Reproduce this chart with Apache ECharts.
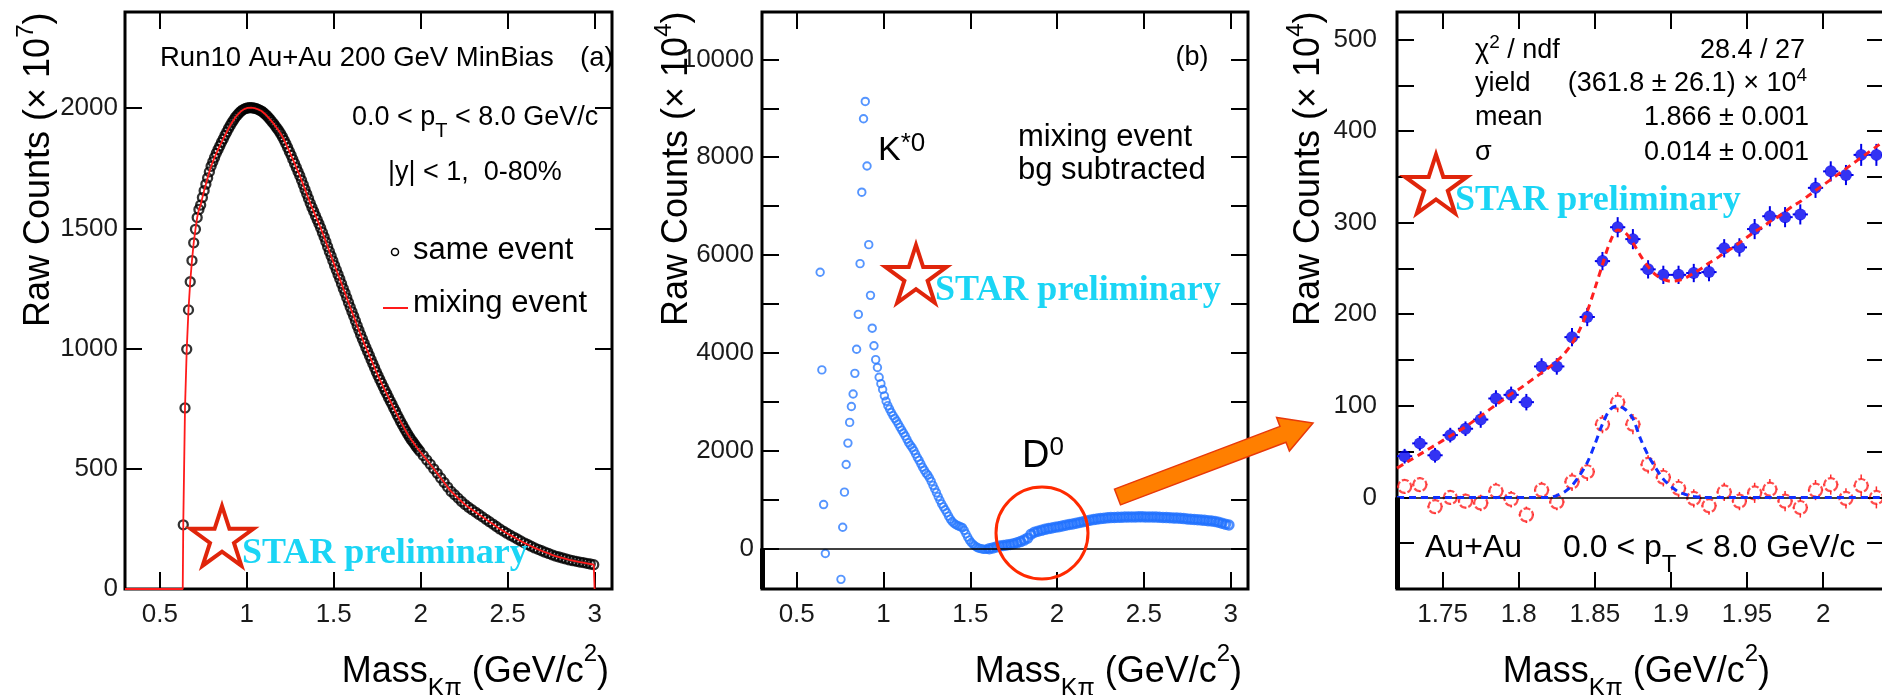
<!DOCTYPE html>
<html><head><meta charset="utf-8">
<script src="https://cdn.jsdelivr.net/npm/echarts@6/dist/echarts.min.js"></script>
<style>html,body{margin:0;padding:0;background:#fff}#c{width:1882px;height:695px}</style>
</head><body><div id="c"></div>
<script>
// ---------- Panel (a): same-event Kπ invariant mass (×10^7) ----------
const p1Mass = [
0.635,0.645,0.655,0.665,0.675,0.685,0.695,0.705,0.715,0.725,
0.735,0.745,0.755,0.765,0.775,0.785,0.795,0.805,0.815,0.825,
0.835,0.845,0.855,0.865,0.875,0.885,0.895,0.905,0.915,0.925,
0.935,0.945,0.955,0.965,0.975,0.985,0.995,1.005,1.015,1.025,
1.035,1.045,1.055,1.065,1.075,1.085,1.095,1.105,1.115,1.125,
1.135,1.145,1.155,1.165,1.175,1.185,1.195,1.205,1.215,1.225,
1.235,1.245,1.255,1.265,1.275,1.285,1.295,1.305,1.315,1.325,
1.335,1.345,1.355,1.365,1.375,1.385,1.395,1.405,1.415,1.425,
1.435,1.445,1.455,1.465,1.475,1.485,1.495,1.505,1.515,1.525,
1.535,1.545,1.555,1.565,1.575,1.585,1.595,1.605,1.615,1.625,
1.635,1.645,1.655,1.665,1.675,1.685,1.695,1.705,1.715,1.725,
1.735,1.745,1.755,1.765,1.775,1.785,1.795,1.805,1.815,1.825,
1.835,1.845,1.855,1.865,1.875,1.885,1.895,1.905,1.915,1.925,
1.935,1.945,1.955,1.965,1.975,1.985,1.995,
2.015,2.035,2.055,2.075,2.095,2.115,2.135,2.155,2.175,2.195,
2.215,2.235,2.255,2.275,2.295,2.315,2.335,2.355,2.375,2.395,
2.415,2.435,2.455,2.475,2.495,2.515,2.535,2.555,2.575,2.595,
2.615,2.635,2.655,2.675,2.695,2.715,2.735,2.755,2.775,2.795,
2.815,2.835,2.855,2.875,2.895,2.915,2.935,2.955,2.975,2.995];
const p1Same = [
267,753,997,1161,1278,1366,1440,1496,1545,1579,
1597,1628,1657,1684,1710,1735,1758,1777,1795,1812,
1828,1843,1858,1872,1887,1901,1915,1928,1940,1951,
1962,1971,1979,1986,1992,1996,1999,2001,2002,2002,
2001,2000,1998,1995,1991,1988,1982,1976,1969,1961,
1953,1944,1935,1925,1915,1905,1894,1881,1867,1852,
1836,1820,1804,1787,1770,1753,1736,1719,1700,1681,
1662,1643,1624,1605,1587,1570,1553,1536,1519,1502,
1483,1464,1444,1424,1404,1385,1365,1346,1327,1308,
1289,1270,1250,1231,1211,1192,1172,1153,1134,1115,
1095,1076,1058,1040,1022,1005,988,971,954,937,
920,903,887,871,856,841,826,812,797,782,
768,753,739,724,710,696,683,670,657,645,
633,622,612,602,592,582,573,
555,537,519,500,481,462,443,424,406,392,
378,364,351,340,330,320,310,300,290,280,
270,260,250,241,232,224,216,208,200,192,
185,178,171,165,159,153,148,142,137,133,
129,125,121,118,115,112,110,107,104,101];
// mixing-event histogram edges (normalised to same event)
const p1MixStart = [[0.30, 0], [0.632, 0]];
const p1MixEnd = [[3.0, 100], [3.0, 0]];

// ---------- Panel (b): mixing-event background subtracted (×10^4) ----------
const p2Mass = [
0.635,0.645,0.655,0.665,0.755,0.765,0.775,0.785,0.795,0.805,0.815,0.825,
0.835,0.845,0.855,0.865,0.875,0.885,0.895,0.905,0.915,0.925,0.935,0.945,
0.955,0.965,0.975,0.985,0.995,1.005,1.015,1.025,1.035,1.045,
1.055,1.065,1.075,1.085,1.095,1.105,1.115,1.125,1.135,1.145,
1.155,1.165,1.175,1.185,1.195,1.205,1.215,1.225,1.235,1.245,
1.255,1.265,1.275,1.285,1.295,1.305,1.315,1.325,1.335,1.345,
1.355,1.365,1.375,1.385,1.395,1.405,1.415,1.425,1.435,1.445,
1.455,1.465,1.475,1.485,1.495,1.505,1.515,1.525,1.535,1.545,
1.555,1.565,1.575,1.585,1.595,
1.61,1.63,1.65,1.67,1.69,1.71,1.73,1.75,1.77,1.79,
1.81,1.83,1.85,1.87,1.89,1.91,1.93,1.95,1.97,1.99,
2.01,2.03,2.05,2.07,2.09,2.11,2.13,2.15,2.17,2.19,
2.21,2.23,2.25,2.27,2.29,2.31,2.33,2.35,2.37,2.39,
2.41,2.43,2.45,2.47,2.49,2.51,2.53,2.55,2.57,2.59,
2.61,2.63,2.65,2.67,2.69,2.71,2.73,2.75,2.77,2.79,
2.81,2.83,2.85,2.87,2.89,2.91,2.93,2.95,2.97,2.99];
const p2Counts = [
5648,3651,897,-104,-633,432,1151,1717,2154,2577,2903,3157,
3580,4074,4786,5824,7285,8787,9141,7821,6212,5175,4504,4145,
3860,3700,3500,3370,3250,3120,3010,2920,2850,2780,
2715,2660,2605,2545,2480,2420,2360,2300,2230,2160,
2110,2060,2000,1930,1860,1800,1730,1660,1600,1540,
1500,1440,1370,1290,1215,1140,1060,985,910,850,
790,730,660,600,550,515,490,470,455,440,
425,370,300,230,170,120,85,55,30,12,
0,-10,-18,-20,-15,
-5,10,30,50,60,70,80,95,115,140,
170,210,290,330,350,370,390,405,420,435,
445,460,475,490,500,515,530,545,560,575,
590,600,610,618,625,630,633,636,638,640,
642,644,645,646,646,645,644,642,640,637,
634,631,628,624,620,616,610,604,598,592,
586,580,574,567,560,550,535,515,495,480];
const p2DenseFrom = 89; // index where the dense (coarser-read) band starts

// ---------- Panel (c): D0 region (×10^4) ----------
const p3Mass = [1.725,1.735,1.745,1.755,1.765,1.775,1.785,1.795,1.805,1.815,1.825,1.835,1.845,1.855,1.865,1.875,
                1.885,1.895,1.905,1.915,1.925,1.935,1.945,1.955,1.965,1.975,1.985,1.995,2.005,2.015,2.025,2.035];
const p3Total = [45,59,46,68,75,85,108,112,104,143,143,175,197,258,295,282,
                 249,243,243,245,246,272,273,293,307,306,309,338,356,352,374,374];
const p3Signal = [12,14,-10,0,-4,-6,7,-2,-19,8,-5,17,28,80,104,80,
                  36,22,10,-1,-9,6,-4,5,9,-4,-11,8,14,-1,13,0];
const p3Err = [8,8,8,8,8,9,9,9,9,9,9,10,10,10,11,11,10,10,10,10,10,10,10,11,11,11,11,11,11,11,12,12];
const p3HalfBin = 0.005;
const p3FitX = [1.720,1.725,1.730,1.735,1.740,1.745,1.750,1.755,1.760,1.765,
  1.770,1.775,1.780,1.785,1.790,1.795,1.800,1.805,1.810,1.815,
  1.820,1.825,1.830,1.835,1.840,1.845,1.850,1.855,1.860,1.865,
  1.870,1.875,1.880,1.885,1.890,1.895,1.900,1.905,1.910,1.915,
  1.920,1.925,1.930,1.935,1.940,1.945,1.950,1.955,1.960,1.965,
  1.970,1.975,1.980,1.985,1.990,1.995,2.000,2.005,2.010,2.015,
  2.020,2.025,2.030,2.035,2.040];
const p3FitTotal = [32,37,42,47,52,57,62,67,72,77,
  83,89,95,101,107,113,118,124,130,136,
  142,149,157,168,183,203,228,254,279,292,
  289,278,264,252,243,238,236,237,240,245,
  250,256,261,267,272,278,284,290,295,301,
  306,312,318,323,329,335,341,347,353,359,
  365,371,377,383,389];
const p3FitSignal = [0,0,0,0,0,0,0,0,0,0,
  0,0,0,0,0,0,0,0,0,0,
  0,2,6,13,24,38,58,80,96,100,
  96,86,64,46,32,20,12,6,3,1,
  0,0,0,0,0,0,0,0,0,0,
  0,0,0,0,0,0,0,0,0,0,
  0,0,0,0,0];

// tick labels
const p12XTicks = [0.5, 1, 1.5, 2, 2.5, 3];
const p1YTicks = [0, 500, 1000, 1500, 2000];
const p2YTicks = [0,1000,2000,3000,4000,5000,6000,7000,8000,9000,10000];
const p2YLabels = [0, 2000, 4000, 6000, 8000, 10000];
const p3XTicks = [1.75, 1.8, 1.85, 1.9, 1.95, 2];
const p3YTicks = [-50,0,50,100,150,200,250,300,350,400,450,500];
const p3YLabels = [0, 100, 200, 300, 400, 500];

// ---------- chart ----------
const SANS = "'Liberation Sans', Arial, Helvetica, sans-serif";
const SERIF = "'Liberation Serif', 'Times New Roman', serif";
const zip = (xs, ys) => xs.map((x, i) => [x, ys[i]]);
const fmt = v => String(v);

function grid(left, width) {
  return {left, top: 12, width, height: 577, show: true, borderColor: '#000', borderWidth: 3,
          backgroundColor: 'transparent', containLabel: false, outerBoundsMode: 'none'};
}
function xAx(g, min, max, ticks, pos) {
  return {type: 'value', gridIndex: g, position: pos, min, max,
    axisLine: {show: false, onZero: false}, splitLine: {show: false},
    axisTick: {show: true, inside: true, length: 17, customValues: ticks, lineStyle: {color: '#000', width: 2}},
    axisLabel: {show: pos === 'bottom', customValues: ticks, margin: 13, fontSize: 26, fontFamily: SANS,
                color: '#1a1a1a', formatter: fmt}};
}
function yAx(g, min, max, ticks, labels, pos, margin) {
  return {type: 'value', gridIndex: g, position: pos, min, max,
    axisLine: {show: false, onZero: false}, splitLine: {show: false},
    axisTick: {show: true, inside: true, length: 17, customValues: ticks, lineStyle: {color: '#000', width: 2}},
    axisLabel: {show: pos === 'left', customValues: labels, margin: margin, fontSize: 26, fontFamily: SANS,
                color: '#1a1a1a', formatter: fmt}};
}
// error bars drawn only outside the marker (ROOT style)
function errRender(color, lw, rPx) {
  return function (params, api) {
    const x = api.value(0), y = api.value(1), e = api.value(2), hw = api.value(3);
    const c = api.coord([x, y]);
    const t = api.coord([x, y + e]), b = api.coord([x, y - e]);
    const l = api.coord([x - hw, y]), r = api.coord([x + hw, y]);
    const kids = [];
    const seg = (x1, y1, x2, y2) => kids.push({type: 'line', shape: {x1, y1, x2, y2}, style: {stroke: color, lineWidth: lw}});
    if (c[1] - t[1] > rPx) { seg(c[0], c[1] - rPx, c[0], t[1]); seg(c[0], c[1] + rPx, c[0], b[1]); }
    if (r[0] - c[0] > rPx) { seg(c[0] + rPx, c[1], r[0], c[1]); seg(c[0] - rPx, c[1], l[0], c[1]); }
    return {type: 'group', children: kids};
  };
}
const zeroLine = {silent: true, symbol: ['none', 'none'], label: {show: false},
  lineStyle: {color: '#000', width: 1.5, type: 'solid'}, data: [{yAxis: 0}]};
const p2Data = zip(p2Mass, p2Counts);

const option = {
  animation: false,
  backgroundColor: '#fff',
  grid: [grid(125, 487), grid(762, 486), grid(1397, 487)],
  xAxis: [
    xAx(0, 0.3, 3.1, p12XTicks, 'bottom'), xAx(0, 0.3, 3.1, p12XTicks, 'top'),
    xAx(1, 0.3, 3.1, p12XTicks, 'bottom'), xAx(1, 0.3, 3.1, p12XTicks, 'top'),
    xAx(2, 1.72, 2.04, p3XTicks, 'bottom'), xAx(2, 1.72, 2.04, p3XTicks, 'top')
  ],
  yAxis: [
    yAx(0, 0, 2400, p1YTicks, p1YTicks, 'left', 7), yAx(0, 0, 2400, p1YTicks, p1YTicks, 'right', 7),
    yAx(1, -830, 10970, p2YTicks, p2YLabels, 'left', 8), yAx(1, -830, 10970, p2YTicks, p2YLabels, 'right', 8),
    yAx(2, -100, 530, p3YTicks, p3YLabels, 'left', 20), yAx(2, -100, 530, p3YTicks, p3YLabels, 'right', 20)
  ],
  series: [
    {name: 'same event', type: 'scatter', xAxisIndex: 0, yAxisIndex: 0, data: zip(p1Mass, p1Same),
     symbol: 'circle', symbolSize: 9, itemStyle: {color: 'transparent', borderColor: '#000', borderWidth: 2.3}, z: 3},
    {name: 'mixing event', type: 'line', xAxisIndex: 0, yAxisIndex: 0,
     data: p1MixStart.concat(zip(p1Mass, p1Same), p1MixEnd),
     showSymbol: false, lineStyle: {color: '#ff1a1a', width: 1.8}, z: 4},
    {name: 'bg subtracted', type: 'scatter', xAxisIndex: 2, yAxisIndex: 2, data: p2Data.slice(0, p2DenseFrom),
     symbol: 'circle', symbolSize: 7.5, itemStyle: {color: 'transparent', borderColor: '#2a7bff', borderWidth: 1.9},
     markLine: zeroLine, z: 3},
    {name: 'bg subtracted', type: 'scatter', xAxisIndex: 2, yAxisIndex: 2, data: p2Data.slice(p2DenseFrom),
     symbol: 'circle', symbolSize: 8.5, itemStyle: {color: 'transparent', borderColor: '#1f70ff', borderWidth: 3}, z: 3},
    {type: 'custom', xAxisIndex: 4, yAxisIndex: 4, renderItem: errRender('#0000e8', 2, 5),
     data: p3Mass.map((m, i) => [m, p3Total[i], p3Err[i], p3HalfBin]), z: 2},
    {type: 'custom', xAxisIndex: 4, yAxisIndex: 4, renderItem: errRender('#ff2a2a', 1.5, 6.5),
     data: p3Mass.map((m, i) => [m, p3Signal[i], p3Err[i], p3HalfBin]), z: 2},
    {name: 'total', type: 'scatter', xAxisIndex: 4, yAxisIndex: 4, data: zip(p3Mass, p3Total),
     symbol: 'circle', symbolSize: 12, itemStyle: {color: '#0000f0'}, markLine: zeroLine, z: 3},
    {name: 'signal', type: 'scatter', xAxisIndex: 4, yAxisIndex: 4, data: zip(p3Mass, p3Signal),
     symbol: 'circle', symbolSize: 13,
     itemStyle: {color: 'transparent', borderColor: '#ff2020', borderWidth: 2.2, borderType: [7, 2]}, z: 3},
    {name: 'fit total', type: 'line', xAxisIndex: 4, yAxisIndex: 4, data: zip(p3FitX, p3FitTotal),
     showSymbol: false, smooth: 0.3, lineStyle: {color: '#ff2020', width: 3, type: [7, 5]}, z: 5},
    {name: 'fit signal', type: 'line', xAxisIndex: 4, yAxisIndex: 4, data: zip(p3FitX, p3FitSignal),
     showSymbol: false, smooth: 0.3, lineStyle: {color: '#1030ff', width: 3, type: [7, 5]}, z: 5}
  ]
};

const chart = echarts.init(document.getElementById('c'), null, {renderer: 'canvas'});
chart.setOption(option);

// ---------- annotations ----------
function T(x, y, text, size, o) {
  o = o || {};
  return {type: 'text', x, y, rotation: o.rot || 0, z: 100,
    style: {text, fontSize: size, fontFamily: o.family || SANS, fontWeight: o.weight || 'normal',
            fill: o.color || '#000', align: o.align || 'left', verticalAlign: 'middle', rich: o.rich}};
}
function star(cx, cy, R) {
  const pts = [];
  for (let i = 0; i < 10; i++) {
    const a = -Math.PI / 2 + i * Math.PI / 5;
    const r = i % 2 ? R * 0.382 : R;
    pts.push([cx + r * Math.cos(a), cy + r * Math.sin(a)]);
  }
  return {type: 'polygon', z: 100, shape: {points: pts},
          style: {fill: 'transparent', stroke: '#e0250b', lineWidth: 4, lineJoin: 'miter'}};
}
const yTitleRich = {
  m: {fontSize: 36, fontFamily: SANS, lineHeight: 50, verticalAlign: 'middle', fill: '#000'},
  s: {fontSize: 24, fontFamily: SANS, lineHeight: 24, verticalAlign: 'top', fill: '#000'}
};
const xTitleRich = {
  m: {fontSize: 36, fontFamily: SANS, lineHeight: 60, verticalAlign: 'middle', fill: '#000'},
  b: {fontSize: 25, fontFamily: SANS, lineHeight: 18, verticalAlign: 'bottom', fill: '#000'},
  s: {fontSize: 24, fontFamily: SANS, lineHeight: 24, verticalAlign: 'top', fill: '#000'}
};
const xTitle = '{m|Mass}{b|Kπ}{m| (GeV/c}{s|2}{m|)}';
const ptRich27 = {
  m: {fontSize: 27, fontFamily: SANS, lineHeight: 46, verticalAlign: 'middle', fill: '#000'},
  b: {fontSize: 20, fontFamily: SANS, lineHeight: 16, verticalAlign: 'bottom', fill: '#000'}
};
const ptRich32 = {
  m: {fontSize: 32, fontFamily: SANS, lineHeight: 58, verticalAlign: 'middle', fill: '#000'},
  b: {fontSize: 24, fontFamily: SANS, lineHeight: 20, verticalAlign: 'bottom', fill: '#000'}
};
const supRich = (size, lh, ssize, slh) => ({
  m: {fontSize: size, fontFamily: SANS, lineHeight: lh, verticalAlign: 'middle', fill: '#000'},
  s: {fontSize: ssize, fontFamily: SANS, lineHeight: slh, verticalAlign: 'top', fill: '#000'}
});
const starText = (x, y) => T(x, y, 'STAR preliminary', 36, {family: SERIF, weight: 'bold', color: '#1bd5f5'});

const G = [];
// panel (a)
G.push(T(39, 327, '{m|Raw Counts (× 10}{s|7}{m|)}', 36, {rot: Math.PI / 2, rich: yTitleRich}));
G.push(T(609, 672, xTitle, 36, {align: 'right', rich: xTitleRich}));
G.push(T(160, 58, 'Run10 Au+Au 200 GeV MinBias', 27.5));
G.push(T(580, 58, '(a)', 27.5));
G.push(T(352, 118, '{m|0.0 < p}{b|T}{m| < 8.0 GeV/c}', 27, {rich: ptRich27}));
G.push(T(388, 173, '|y| < 1,  0-80%', 27));
G.push({type: 'circle', z: 100, shape: {cx: 395, cy: 252, r: 3.5}, style: {fill: 'transparent', stroke: '#000', lineWidth: 1.5}});
G.push(T(413, 250, 'same event', 31));
G.push({type: 'line', z: 100, shape: {x1: 383, y1: 308, x2: 408, y2: 308}, style: {stroke: '#ff1a1a', lineWidth: 2}});
G.push(T(413, 303, 'mixing event', 31));
G.push(star(222, 539, 33));
G.push(starText(242, 554));
// panel (b)
G.push(T(677, 326, '{m|Raw Counts (× 10}{s|4}{m|)}', 36, {rot: Math.PI / 2, rich: yTitleRich}));
G.push(T(1242, 672, xTitle, 36, {align: 'right', rich: xTitleRich}));
G.push(T(1192, 58, '(b)', 27, {align: 'center'}));
G.push(T(878, 151, '{m|K}{s|*0}', 34, {rich: supRich(34, 40, 26, 20)}));
G.push(T(1018, 137, 'mixing event', 31));
G.push(T(1018, 170, 'bg subtracted', 31));
G.push(T(1022, 457, '{m|D}{s|0}', 38, {rich: supRich(38, 44, 26, 24)}));
G.push({type: 'circle', z: 100, shape: {cx: 1042, cy: 533, r: 46}, style: {fill: 'transparent', stroke: '#ff2a00', lineWidth: 3}});
G.push(star(916, 277, 32));
G.push(starText(935, 291));
G.push({type: 'polygon', z: 100, shape: {points: [[1114.5, 489.1], [1280, 426.4], [1276.6, 417.5], [1313, 423],
        [1289.4, 451.1], [1286, 442.2], [1120.5, 504.9]]},
        style: {fill: '#ff7f00', stroke: '#e8380a', lineWidth: 1.5}});
// panel (c)
G.push(T(1309, 326, '{m|Raw Counts (× 10}{s|4}{m|)}', 36, {rot: Math.PI / 2, rich: yTitleRich}));
G.push(T(1770, 672, xTitle, 36, {align: 'right', rich: xTitleRich}));
G.push(T(1475, 51, '{m|χ}{s|2}{m| / ndf}', 27, {rich: supRich(27, 36, 19, 26)}));
G.push(T(1805, 51, '28.4 / 27', 27, {align: 'right'}));
G.push(T(1475, 84, 'yield', 27));
G.push(T(1807, 84, '{m|(361.8 ± 26.1) × 10}{s|4}', 27, {align: 'right', rich: supRich(27, 36, 19, 22)}));
G.push(T(1475, 118, 'mean', 27));
G.push(T(1809, 118, '1.866 ± 0.001', 27, {align: 'right'}));
G.push(T(1475, 153, 'σ', 27));
G.push(T(1809, 153, '0.014 ± 0.001', 27, {align: 'right'}));
G.push(star(1436, 187, 32.5));
G.push(starText(1455, 201));
G.push(T(1425, 548, 'Au+Au', 32));
G.push(T(1563, 548, '{m|0.0 < p}{b|T}{m| < 8.0 GeV/c}', 32, {rich: ptRich32}));
// thicker left frame below zero (panels b, c)
[[2, 0.3, -830], [4, 1.72, -100]].forEach(([ai, xmin, ymin]) => {
  const a = chart.convertToPixel({xAxisIndex: ai, yAxisIndex: ai}, [xmin, 0]);
  const b = chart.convertToPixel({xAxisIndex: ai, yAxisIndex: ai}, [xmin, ymin]);
  G.push({type: 'rect', z: 90, shape: {x: a[0] - 2, y: a[1], width: 5, height: b[1] - a[1]}, style: {fill: '#000'}});
});
chart.setOption({graphic: G});
</script></body></html>
